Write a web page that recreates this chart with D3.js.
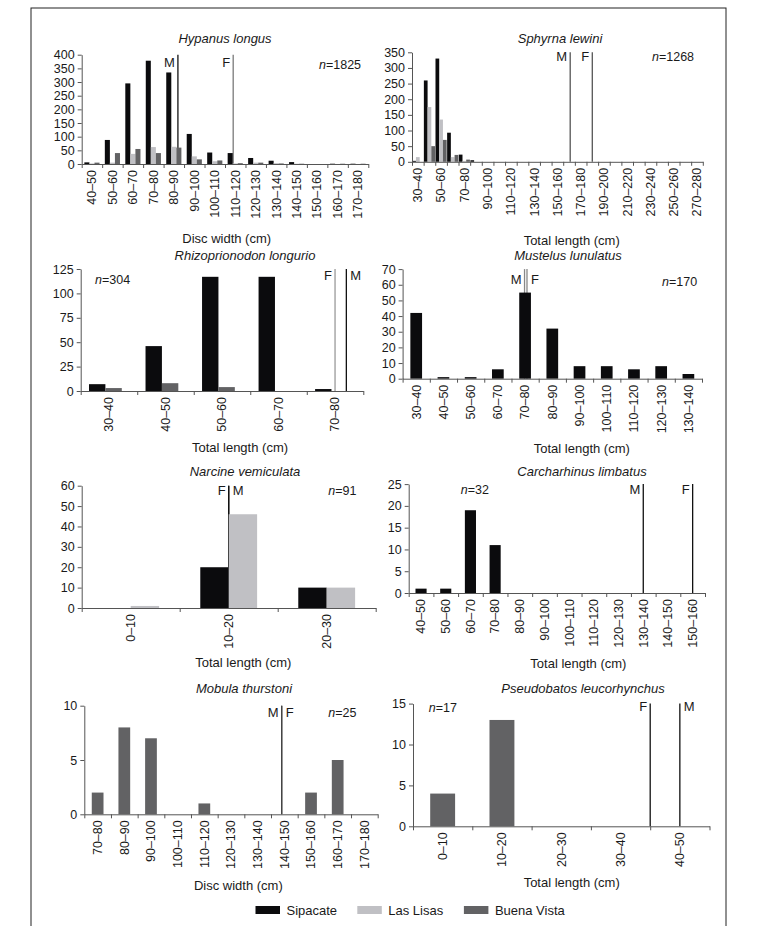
<!DOCTYPE html>
<html>
<head>
<meta charset="utf-8">
<title>Size frequency by site</title>
<script src="https://cdn.jsdelivr.net/npm/d3@7"></script>
<style>
  body { margin: 0; background: #fff; }
  svg text { font-family: "Liberation Sans", Arial, sans-serif; fill: #1a1a1a; }
</style>
</head>
<body>
<svg id="visual" width="760" height="926"></svg>
<script>
// sites (series) shared by every panel
var siteNames = ["Sipacate", "Las Lisas", "Buena Vista"];
var siteColors = ["#0b0b0d", "#c0c0c4", "#626264"];

// Hypanus longus, disc width
var hypanusBins = ["40–50","50–60","60–70","70–80","80–90","90–100","100–110","110–120","120–130","130–140","140–150","150–160","160–170","170–180"];
var hypanusSipacate   = [6, 88, 295, 378, 335, 110, 42, 40, 22, 12, 7, 0, 1, 1];
var hypanusLasLisas   = [2, 5, 37, 62, 63, 28, 10, 2, 5, 3, 1, 0, 0, 0];
var hypanusBuenaVista = [5, 40, 55, 40, 60, 17, 13, 3, 5, 2, 1, 0, 1, 1];
var hypanusMatSex = ["M", "F"];
var hypanusMatSize = [87, 114];

// Sphyrna lewini, total length
var sphyrnaBins = ["30–40","40–50","50–60","60–70","70–80","80–90","90–100","100–110","110–120","120–130","130–140","140–150","150–160","160–170","170–180","180–190","190–200","200–210","210–220","220–230","230–240","240–250","250–260","260–270","270–280"];
var sphyrnaSipacate   = [3, 260, 330, 93, 23, 5, 0, 0, 0, 0, 0, 0, 0, 0, 0, 0, 0, 0, 0, 0, 0, 0, 0, 0, 0];
var sphyrnaLasLisas   = [15, 175, 135, 15, 3, 0, 0, 0, 0, 0, 0, 0, 0, 0, 0, 0, 0, 0, 0, 0, 0, 0, 0, 0, 0];
var sphyrnaBuenaVista = [0, 50, 70, 22, 7, 0, 0, 0, 0, 0, 0, 0, 0, 0, 0, 0, 0, 0, 0, 0, 0, 0, 0, 0, 0];
var sphyrnaMatSex = ["M", "F"];
var sphyrnaMatSize = [166, 185];

// Rhizoprionodon longurio
var rhizoBins = ["30–40","40–50","50–60","60–70","70–80"];
var rhizoSipacate   = [7, 46, 117, 117, 2];
var rhizoBuenaVista = [3, 8, 4, 0, 0];
var rhizoMatSex = ["F", "M"];
var rhizoMatSize = [75, 77];

// Mustelus lunulatus
var mustelusBins = ["30–40","40–50","50–60","60–70","70–80","80–90","90–100","100–110","110–120","120–130","130–140"];
var mustelusSipacate = [42, 1, 1, 6, 55, 32, 8, 8, 6, 8, 3];
var mustelusMatSex = ["M", "F"];
var mustelusMatSize = [74.8, 75.7];

// Narcine vemiculata
var narcineBins = ["0–10","10–20","20–30"];
var narcineSipacate = [0, 20, 10];
var narcineLasLisas = [1, 46, 10];
var narcineMatSex = ["F", "M"];
var narcineMatSize = [15, 15];

// Carcharhinus limbatus
var carchBins = ["40–50","50–60","60–70","70–80","80–90","90–100","100–110","110–120","120–130","130–140","140–150","150–160"];
var carchSipacate = [1, 1, 19, 11, 0, 0, 0, 0, 0, 0, 0, 0];
var carchMatSex = ["M", "F"];
var carchMatSize = [135, 155];

// Mobula thurstoni, disc width
var mobulaBins = ["70–80","80–90","90–100","100–110","110–120","120–130","130–140","140–150","150–160","160–170","170–180"];
var mobulaBuenaVista = [2, 8, 7, 0, 1, 0, 0, 0, 2, 5, 0];
var mobulaMatSex = ["M", "F"];
var mobulaMatSize = [144, 144];

// Pseudobatos leucorhynchus
var pseudoBins = ["0–10","10–20","20–30","30–40","40–50"];
var pseudoBuenaVista = [4, 13, 0, 0, 0];
var pseudoMatSex = ["F", "M"];
var pseudoMatSize = [40, 45];

var panels = [
  {title: "Hypanus longus", n: 1825, axisTitle: "Disc width (cm)", bins: hypanusBins,
   values: [hypanusSipacate, hypanusLasLisas, hypanusBuenaVista], yMax: 400, yStep: 50,
   matSex: hypanusMatSex, matSize: hypanusMatSize,
   x0: 81.7, x1: 368.3, top: 54.7, base: 164, group: 0.74, every: 1,
   titleX: 225, titleY: 42.5, nX: 319, nY: 69, axX: 226.7, axY: 242.5,
   lineColors: ["#111", "#7a7a7a"], sides: ["left", "left"], labDy: 12},
  {title: "Sphyrna lewini", n: 1268, axisTitle: "Total length (cm)", bins: sphyrnaBins,
   values: [sphyrnaSipacate, sphyrnaLasLisas, sphyrnaBuenaVista], yMax: 350, yStep: 50,
   matSex: sphyrnaMatSex, matSize: sphyrnaMatSize,
   x0: 412, x1: 702.8, top: 52.3, base: 161.8, group: 0.96, every: 2,
   titleX: 560, titleY: 43, nX: 652, nY: 60.5, axX: 571.7, axY: 245,
   lineColors: ["#555", "#555"], sides: ["left", "left"], labDy: 8.5},
  {title: "Rhizoprionodon longurio", n: 304, axisTitle: "Total length (cm)", bins: rhizoBins,
   values: [rhizoSipacate, null, rhizoBuenaVista], yMax: 125, yStep: 25,
   matSex: rhizoMatSex, matSize: rhizoMatSize,
   x0: 80.7, x1: 363.3, top: 269, base: 391, group: 0.58, groupStart: 0.147, every: 1,
   titleX: 245, titleY: 260, nX: 95, nY: 284, axX: 240, axY: 451.5,
   lineColors: ["#9a9a9a", "#111"], sides: ["left", "right"], labDy: 11},
  {title: "Mustelus lunulatus", n: 170, axisTitle: "Total length (cm)", bins: mustelusBins,
   values: [mustelusSipacate, null, null], yMax: 70, yStep: 10,
   matSex: mustelusMatSex, matSize: mustelusMatSize,
   x0: 402.6, x1: 702, top: 269.1, base: 378.7, group: 0.43, every: 1,
   titleX: 568, titleY: 260, nX: 662, nY: 286, axX: 581.8, axY: 453,
   lineColors: ["#888", "#888"], sides: ["left", "right"], labDy: 14.5},
  {title: "Narcine vemiculata", n: 91, axisTitle: "Total length (cm)", bins: narcineBins,
   values: [narcineSipacate, narcineLasLisas, null], yMax: 60, yStep: 10,
   matSex: narcineMatSex, matSize: narcineMatSize,
   x0: 81.7, x1: 375.7, top: 485.7, base: 608, group: 0.58, every: 1,
   titleX: 245, titleY: 475.5, nX: 328.3, nY: 495, axX: 243.3, axY: 666.5,
   lineColors: ["#111", "#111"], sides: ["left", "right"], labDy: 9.5},
  {title: "Carcharhinus limbatus", n: 32, axisTitle: "Total length (cm)", bins: carchBins,
   values: [carchSipacate, null, null], yMax: 25, yStep: 5,
   matSex: carchMatSex, matSize: carchMatSize,
   x0: 408.7, x1: 705, top: 484.1, base: 593, group: 0.45, every: 1,
   titleX: 582, titleY: 476, nX: 460.8, nY: 493.5, axX: 578.4, axY: 668,
   lineColors: ["#111", "#111"], sides: ["left", "left"], labDy: 10},
  {title: "Mobula thurstoni", n: 25, axisTitle: "Disc width (cm)", bins: mobulaBins,
   values: [null, null, mobulaBuenaVista], yMax: 10, yStep: 5,
   matSex: mobulaMatSex, matSize: mobulaMatSize,
   x0: 84.3, x1: 377.7, top: 705.7, base: 814.3, group: 0.44, every: 1,
   titleX: 244, titleY: 693, nX: 328.3, nY: 716.5, axX: 238.3, axY: 890,
   lineColors: ["#444", "#444"], sides: ["left", "right"], labDy: 11},
  {title: "Pseudobatos leucorhynchus", n: 17, axisTitle: "Total length (cm)", bins: pseudoBins,
   values: [null, null, pseudoBuenaVista], yMax: 15, yStep: 5,
   matSex: pseudoMatSex, matSize: pseudoMatSize,
   x0: 413, x1: 709.5, top: 703.6, base: 826.3, group: 0.42, every: 1,
   titleX: 583, titleY: 693, nX: 428.8, nY: 712, axX: 571.7, axY: 887,
   lineColors: ["#111", "#111"], sides: ["left", "right"], labDy: 7}
];

var svg = d3.select("#visual");

// frame round the whole figure
svg.append("rect")
  .attr("x", 31).attr("y", 8)
  .attr("width", 695).attr("height", 940)
  .attr("fill", "none").attr("stroke", "#222").attr("stroke-width", 1);

panels.forEach(function(p) {
  var g = svg.append("g");

  var x = d3.scaleBand().domain(p.bins).range([p.x0, p.x1]).paddingInner(0).paddingOuter(0);
  var bw = x.bandwidth();
  var start = +p.bins[0].split("–")[0];
  var cm = d3.scaleLinear().domain([start, start + 10 * p.bins.length]).range([p.x0, p.x1]);
  var y = d3.scaleLinear().domain([0, p.yMax]).range([p.base, p.top]);

  // which sites have data in this panel
  var present = [];
  p.values.forEach(function(v, i) { if (v) present.push(i); });
  var sub = d3.scaleBand().domain(present).range([0, bw * p.group]);
  var off = p.groupStart != null ? bw * p.groupStart : bw * (1 - p.group) / 2;

  // maturity lines drawn first, bars sit on top
  p.matSize.forEach(function(s, i) {
    var lx = cm(s);
    g.append("line")
      .attr("x1", lx).attr("x2", lx)
      .attr("y1", p.top).attr("y2", p.base)
      .attr("stroke", p.lineColors[i]).attr("stroke-width", 1.3);
    var left = p.sides[i] === "left";
    g.append("text")
      .attr("x", left ? lx - 3 : lx + 4)
      .attr("y", p.top + p.labDy)
      .attr("text-anchor", left ? "end" : "start")
      .style("font-size", "13px")
      .text(p.matSex[i]);
  });

  present.forEach(function(si) {
    g.selectAll(null)
      .data(p.values[si].map(function(v, k) { return {bin: p.bins[k], v: v}; })
                        .filter(function(d) { return d.v > 0; }))
      .enter().append("rect")
      .attr("x", function(d) { return x(d.bin) + off + sub(si); })
      .attr("y", function(d) { return y(d.v); })
      .attr("width", sub.bandwidth())
      .attr("height", function(d) { return p.base - y(d.v); })
      .attr("fill", siteColors[si]);
  });

  // y axis
  var yAxis = g.append("g")
    .attr("transform", "translate(" + p.x0 + ",0)")
    .call(d3.axisLeft(y).tickValues(d3.range(0, p.yMax + 1, p.yStep))
      .tickSize(4).tickSizeOuter(0).tickPadding(3));
  yAxis.selectAll("text").style("font-size", "12.5px").attr("fill", "#1a1a1a");

  // x axis: tick marks at each bin boundary
  var xAxis = g.append("g")
    .attr("transform", "translate(0," + p.base + ")")
    .call(d3.axisBottom(cm).tickValues(d3.range(0, p.bins.length + 1).map(function(k) { return start + 10 * k; }))
      .tickSize(4).tickSizeOuter(0).tickFormat(""));
  [yAxis, xAxis].forEach(function(a) {
    a.select(".domain").attr("stroke", "#555");
    a.selectAll(".tick line").attr("stroke", "#555");
  });

  // rotated bin labels
  g.selectAll(null)
    .data(p.bins.filter(function(b, k) { return k % p.every === 0; }))
    .enter().append("text")
    .attr("transform", function(b) { return "translate(" + (x(b) + bw / 2) + "," + (p.base + 6) + ") rotate(-90)"; })
    .attr("text-anchor", "end")
    .attr("dy", "0.35em")
    .style("font-size", "12.5px")
    .text(function(b) { return b; });

  g.append("text")
    .attr("x", p.titleX).attr("y", p.titleY)
    .attr("text-anchor", "middle")
    .style("font-size", "13px").style("font-style", "italic")
    .text(p.title);

  var nt = g.append("text").attr("x", p.nX).attr("y", p.nY).style("font-size", "12.5px");
  nt.append("tspan").style("font-style", "italic").text("n");
  nt.append("tspan").text("=" + p.n);

  g.append("text")
    .attr("x", p.axX).attr("y", p.axY)
    .attr("text-anchor", "middle")
    .style("font-size", "13px")
    .text(p.axisTitle);
});

// legend
var legendX = [255.5, 357.3, 463.9];
var legend = svg.append("g").selectAll("g")
  .data(siteNames).enter().append("g")
  .attr("transform", function(d, i) { return "translate(" + legendX[i] + ",906)"; });
legend.append("rect").attr("width", 24.5).attr("height", 8)
  .attr("fill", function(d, i) { return siteColors[i]; });
legend.append("text").attr("x", 31).attr("y", 8.5)
  .style("font-size", "13px")
  .text(function(d) { return d; });
</script>
</body>
</html>
